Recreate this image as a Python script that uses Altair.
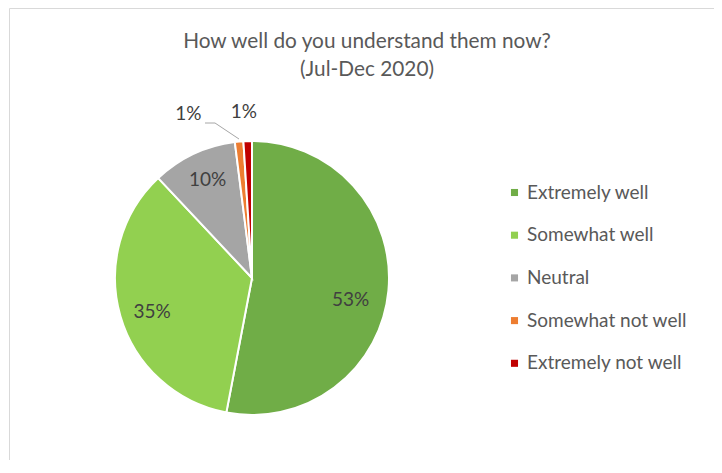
import altair as alt
import pandas as pd

categories = ["Extremely well", "Somewhat well", "Neutral", "Somewhat not well", "Extremely not well"]
values = [53, 35, 10, 1, 1]
labels = ["53%", "35%", "10%", "1%", "1%"]
colors = ["#70AD47", "#92D050", "#A5A5A5", "#ED7D31", "#C00000"]
title_lines = ["How well do you understand them now?", "(Jul-Dec 2020)"]

df = pd.DataFrame({
    "category": categories,
    "value": values,
    "label": labels,
    "order": list(range(len(categories))),
})

FONT = "Lato"
FS = 19
CX, CY = 243, 270
theta_scale = alt.Scale(domain=[0, 100])

stacked = alt.Chart(df).transform_stack(
    stack="value", groupby=[], as_=["v0", "v1"],
    sort=[alt.SortField("order", order="ascending")],
).transform_calculate(mid="(datum.v0 + datum.v1) / 2")

color = alt.Color(
    "category:N",
    scale=alt.Scale(domain=categories, range=colors),
    sort=categories,
    legend=alt.Legend(
        title=None,
        orient="none",
        legendX=496,
        legendY=175,
        symbolType="square",
        symbolSize=50,
        symbolStrokeWidth=0,
        labelFont=FONT,
        labelFontSize=FS,
        labelColor="#595959",
        labelOffset=3,
        rowPadding=22.7,
    ),
)

pie = stacked.mark_arc(outerRadius=137, stroke="white", strokeWidth=2).encode(
    theta=alt.Theta("v0:Q", scale=theta_scale),
    theta2="v1:Q",
    color=color,
    x=alt.value(CX),
    y=alt.value(CY),
)


def label_layer(cat, radius, dx, dy):
    return stacked.transform_filter(alt.datum.category == cat).mark_text(
        radius=radius, dx=dx, dy=dy, font=FONT, fontSize=FS, color="#404040"
    ).encode(
        theta=alt.Theta("mid:Q", scale=theta_scale),
        text="label:N",
        x=alt.value(CX),
        y=alt.value(CY),
    )


lbl_a = label_layer("Extremely well", 104, -5, 12)
lbl_b = label_layer("Somewhat well", 104, 0, 5)
lbl_c = label_layer("Neutral", 104, 0, -4)
lbl_d = label_layer("Somewhat not well", 166, -48, 1)
lbl_e = label_layer("Extremely not well", 166, -3, 0)

lead1 = alt.Chart(df).transform_filter(alt.datum.order == 0).mark_rule(
    color="#A6A6A6", strokeWidth=1
).encode(x=alt.value(196), x2=alt.value(206), y=alt.value(115), y2=alt.value(115))
lead2 = alt.Chart(df).transform_filter(alt.datum.order == 0).mark_rule(
    color="#A6A6A6", strokeWidth=1
).encode(x=alt.value(206), x2=alt.value(230), y=alt.value(115), y2=alt.value(131))

title_df = pd.DataFrame({"t": title_lines})
t1 = alt.Chart(title_df).transform_filter(alt.datum.t == title_lines[0]).mark_text(
    font=FONT, fontSize=20.8, color="#595959"
).encode(text="t:N", x=alt.value(358), y=alt.value(34))
t2 = alt.Chart(title_df).transform_filter(alt.datum.t == title_lines[1]).mark_text(
    font=FONT, fontSize=20.8, color="#595959"
).encode(text="t:N", x=alt.value(358), y=alt.value(62))

chart = alt.layer(pie, lbl_a, lbl_b, lbl_c, lbl_d, lbl_e, lead1, lead2, t1, t2).properties(
    width=705,
    height=452,
    padding={"left": 1, "top": 0, "right": 0, "bottom": 0},
    autosize=alt.AutoSizeParams(type="none"),
    background="white",
).configure_view(stroke="#D9D9D9", strokeWidth=1)

chart.save("out.html", embed_options={"renderer": "svg", "actions": False})
